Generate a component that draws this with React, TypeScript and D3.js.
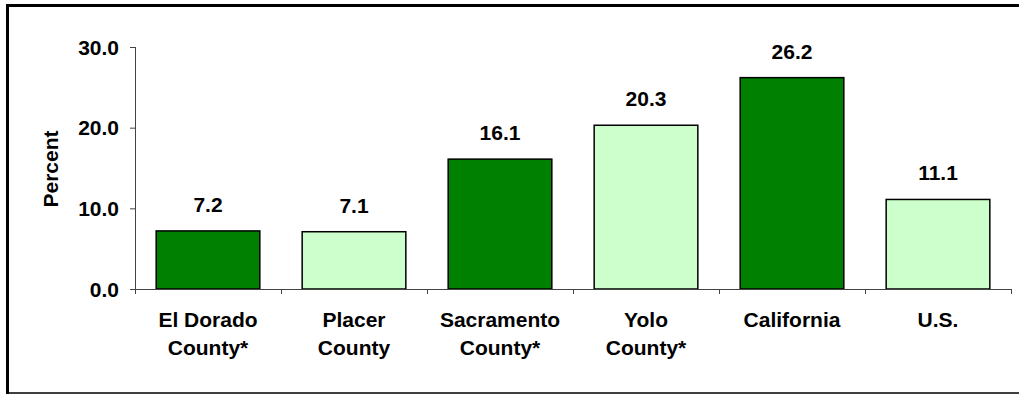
import React from "react";
import * as d3 from "d3";

const categories: string[][] = [
  ["El Dorado", "County*"],
  ["Placer", "County"],
  ["Sacramento", "County*"],
  ["Yolo", "County*"],
  ["California"],
  ["U.S."],
];
const values: number[] = [7.2, 7.1, 16.1, 20.3, 26.2, 11.1];
const barColors: string[] = ["#008000", "#CCFFCC", "#008000", "#CCFFCC", "#008000", "#CCFFCC"];
const yTicks: number[] = [0, 10, 20, 30];
const yLabel = "Percent";

const W = 1019;
const H = 394;
const FONT = "'Liberation Sans', Arial, sans-serif";
const FS = 21;

export default function App() {
  const x = d3
    .scaleBand<number>()
    .domain(values.map((_, i) => i))
    .range([135, 1011])
    .paddingInner(0.29)
    .paddingOuter(0.145);
  const y = d3.scaleLinear().domain([0, 30]).range([289, 47]);
  const step = x.step();
  const x0 = 135;
  const x1 = 1011;

  return (
    <svg
      width={W}
      height={H}
      style={{ position: "absolute", left: 0, top: 0, display: "block", background: "#fff" }}
      fontFamily={FONT}
    >
      {/* frame */}
      <line x1={6} x2={W} y1={5.5} y2={5.5} stroke="#000" strokeWidth={3} />
      <line x1={7.5} x2={7.5} y1={4} y2={H} stroke="#000" strokeWidth={3} />
      <line x1={6} x2={W} y1={393} y2={393} stroke="#000" strokeWidth={1.5} />

      {/* bars */}
      {values.map((v, i) => (
        <g key={i}>
          <rect
            x={x(i)!}
            y={y(v)}
            width={x.bandwidth()}
            height={y(0) - y(v)}
            fill={barColors[i]}
            stroke="#000"
            strokeWidth={1.5}
          />
          <text
            x={x(i)! + x.bandwidth() / 2}
            y={y(v) - 19}
            textAnchor="middle"
            fontSize={FS}
            fontWeight="bold"
            fill="#000"
          >
            {v.toFixed(1)}
          </text>
        </g>
      ))}

      {/* y axis */}
      <line x1={x0 + 0.5} x2={x0 + 0.5} y1={y(30)} y2={y(0)} stroke="#444" strokeWidth={1} />
      {yTicks.map((t) => (
        <g key={t}>
          <line x1={x0 - 5} x2={x0} y1={y(t) + 0.5} y2={y(t) + 0.5} stroke="#444" strokeWidth={1} />
          <text
            x={119}
            y={y(t)}
            dy="0.36em"
            textAnchor="end"
            fontSize={FS}
            fontWeight="bold"
            fill="#000"
          >
            {t.toFixed(1)}
          </text>
        </g>
      ))}
      <text
        transform={`translate(58,169) rotate(-90)`}
        textAnchor="middle"
        fontSize={FS}
        fontWeight="bold"
        fill="#000"
      >
        {yLabel}
      </text>

      {/* x axis */}
      <line x1={x0} x2={x1} y1={y(0) + 0.5} y2={y(0) + 0.5} stroke="#444" strokeWidth={1} />
      {d3.range(values.length + 1).map((k) => (
        <line
          key={k}
          x1={x0 + k * step + 0.5}
          x2={x0 + k * step + 0.5}
          y1={y(0)}
          y2={y(0) + 5}
          stroke="#444"
          strokeWidth={1}
        />
      ))}
      {categories.map((lines, i) => (
        <text
          key={i}
          x={x(i)! + x.bandwidth() / 2}
          y={327}
          textAnchor="middle"
          fontSize={FS}
          fontWeight="bold"
          fill="#000"
        >
          {lines.map((l, j) => (
            <tspan key={j} x={x(i)! + x.bandwidth() / 2} y={327 + j * 28}>
              {l}
            </tspan>
          ))}
        </text>
      ))}
    </svg>
  );
}
